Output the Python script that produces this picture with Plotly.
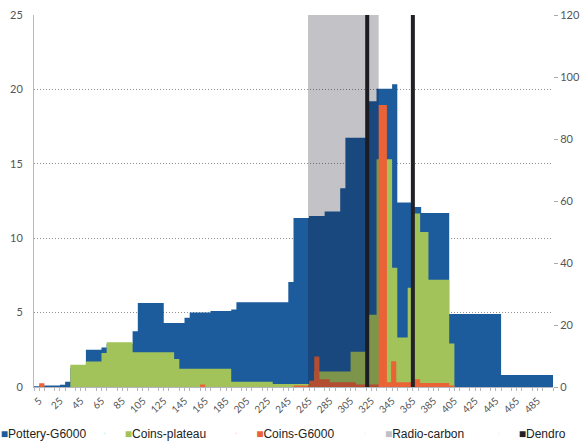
import plotly.graph_objects as go

# ---------------- data (years / values) ----------------
# Pottery-G6000 (left axis) : bin edges in years and bin values
pottery_edges = [0, 5, 15, 25, 30, 35, 50, 65, 70, 95, 100, 125, 145, 150, 170, 190, 195,
                 245, 250, 265, 280, 295, 300, 320, 330, 345, 350, 365, 373, 400, 450, 500]
pottery_vals = [0.05, 0.1, 0.1, 0.15, 0.35, 1.3, 2.5, 2.65, 2.9, 3.75, 5.65, 4.3, 4.65, 5.0, 5.1,
                5.2, 5.7, 7.05, 11.35, 11.5, 11.8, 13.35, 16.75, 19.2, 20.05, 20.35, 12.4, 12.1,
                11.7, 4.9, 0.8]

# Coins-plateau (right axis)
plateau_edges = [0, 35, 50, 65, 70, 95, 135, 140, 190, 230, 265, 270, 305, 320, 330, 345, 350,
                 360, 365, 372, 380, 400, 405, 500]
plateau_vals = [0, 7.2, 8.2, 11, 14.4, 11.2, 9.0, 5.9, 1.7, 1.0, 0.8, 5.0, 11.4, 23.3, 73.5,
                38.5, 16, 32, 56, 50, 34.6, 14, 0]

# Coins-G6000 (right axis)
g6000_edges = [0, 5, 10, 160, 165, 250, 265, 270, 275, 285, 310, 332, 340, 344, 349, 365, 372,
               400, 405, 500]
g6000_vals = [0, 1.2, 0, 0.8, 0, 0.5, 2.0, 9.8, 2.5, 1.5, 0.8, 91, 1.5, 8.3, 1.5, 2.5, 1.3, 0.5, 0]

# Radio-carbon range and Dendro dates
radiocarbon_range = [264, 332]
dendro_dates = [321, 365]

x_tick_vals = [5, 25, 45, 65, 85, 105, 125, 145, 165, 185, 205, 225, 245, 265, 285, 305, 325,
               345, 365, 385, 405, 425, 445, 465, 485]
left_ticks = [0, 5, 10, 15, 20, 25]
right_ticks = [0, 20, 40, 60, 80, 100, 120]

series_names = ["Pottery-G6000", "Coins-plateau", "Coins-G6000", "Radio-carbon", "Dendro"]
series_colors = ["#1d5c9c", "#a2c35a", "#ea6337", "#bfc0c7", "#222226"]

BLUE, GREEN, ORANGE, GREYSW, DARK = series_colors
BAND_FILL = "rgba(10,10,30,0.25)"
AXIS_FONT = dict(family="Lato, 'Open Sans', sans-serif", size=11, color="#555555")


def stepped(edges, vals):
    return list(edges), list(vals) + [vals[-1]]


fig = go.Figure()

px_, py_ = stepped(pottery_edges, pottery_vals)
fig.add_trace(go.Scatter(x=px_, y=py_, mode="lines", line=dict(width=0, shape="hv"),
                         fill="tozeroy", fillcolor=BLUE, showlegend=False, hoverinfo="skip",
                         yaxis="y"))

gx, gy = stepped(plateau_edges, plateau_vals)
fig.add_trace(go.Scatter(x=gx, y=gy, mode="lines", line=dict(width=0, shape="hv"),
                         fill="tozeroy", fillcolor=GREEN, showlegend=False, hoverinfo="skip",
                         yaxis="y2"))

ox, oy = stepped(g6000_edges, g6000_vals)
fig.add_trace(go.Scatter(x=ox, y=oy, mode="lines", line=dict(width=0, shape="hv"),
                         fill="tozeroy", fillcolor=ORANGE, showlegend=False, hoverinfo="skip",
                         yaxis="y2"))

# Radio-carbon band drawn over the areas (translucent, darkens what is beneath)
fig.add_shape(type="rect", xref="x", yref="paper", x0=radiocarbon_range[0],
              x1=radiocarbon_range[1], y0=0, y1=1, fillcolor=BAND_FILL, line=dict(width=0),
              layer="above")

dx, dy = [], []
for d in dendro_dates:
    dx += [d, d, None]
    dy += [0, right_ticks[-1], None]
fig.add_trace(go.Scatter(x=dx, y=dy, mode="lines", line=dict(width=4, color=DARK),
                         showlegend=False, hoverinfo="skip", yaxis="y2"))

# legend entries (one small legend per entry so they can be spread like the original)
legend_ids = ["legend", "legend2", "legend3", "legend4", "legend5"]
legend_x = [-0.141, 0.098, 0.351, 0.599, 0.857]
for name, col, lid in zip(series_names, series_colors, legend_ids):
    fig.add_trace(go.Scatter(x=[None], y=[None], mode="markers",
                             marker=dict(opacity=0, size=1),
                             name=f"<span style='color:{col}'>■</span>{name}",
                             legend=lid, showlegend=True))

legend_style = dict(y=-0.125, xanchor="left", yanchor="middle", orientation="h",
                    bgcolor="rgba(0,0,0,0)",
                    font=dict(family="'Liberation Sans', Arial, sans-serif", size=12,
                              color="#222222"))
layout_legends = {lid: dict(x=lx, **legend_style) for lid, lx in zip(legend_ids, legend_x)}

fig.update_layout(
    width=582, height=442,
    margin=dict(l=34, r=29, t=15, b=55, autoexpand=False),
    paper_bgcolor="white", plot_bgcolor="white",
    xaxis=dict(range=[0, 500], tickvals=x_tick_vals, ticktext=[str(v) for v in x_tick_vals],
               tickangle=-45, tickfont=dict(family=AXIS_FONT["family"], size=10,
                                             color="#555555"),
               showgrid=False, zeroline=False, showline=True, linecolor="#b5b5bd",
               ticks="outside", ticklen=3, tickcolor="#b5b5bd",
               minor=dict(ticks="outside", dtick=10, tick0=0, ticklen=3, tickcolor="#b5b5bd")),
    yaxis=dict(range=[0, 25], tickvals=left_ticks, tickfont=AXIS_FONT,
               showgrid=True, gridcolor="#8f8f98", griddash="1px,2px", gridwidth=1,
               zeroline=False, showline=True, linecolor="#b5b8c6", ticks="",
               ticklabelstandoff=8),
    yaxis2=dict(range=[0, 120], tickvals=right_ticks, tickfont=AXIS_FONT, overlaying="y",
                side="right", showgrid=False, zeroline=False, showline=False,
                ticks="outside", ticklen=4, tickcolor="#aaaaaa"),
    **layout_legends,
)

fig.write_html("out.html", config={"displayModeBar": False},
               post_script="document.body.style.margin='0px';")
